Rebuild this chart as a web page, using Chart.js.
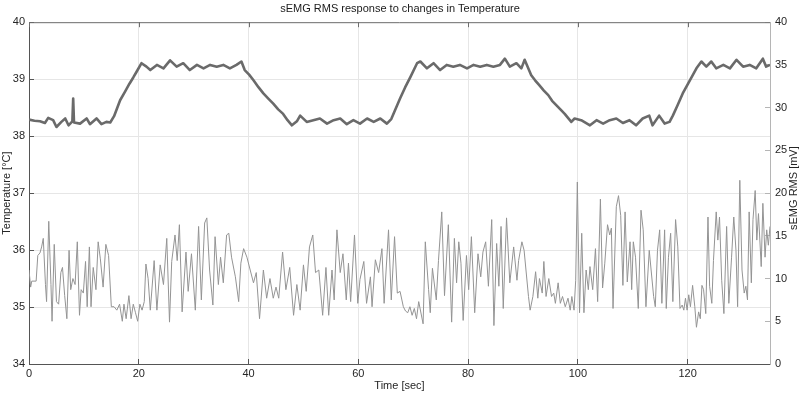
<!DOCTYPE html>
<html>
<head>
<meta charset="utf-8">
<script src="https://cdn.jsdelivr.net/npm/chart.js@4"></script>
<style>
  html, body { margin: 0; padding: 0; background: #fff; }
  #wrap { width: 800px; height: 393px; }
</style>
</head>
<body>
<div id="wrap"><canvas id="cSemg" width="800" height="393"></canvas></div>
<script>
// ===== sEMG RMS vs Temperature =====
const FONT = '"Liberation Sans", Arial, Helvetica, sans-serif';

const TITLE = 'sEMG RMS response to changes in Temperature';
const X_TICKS = [0, 20, 40, 60, 80, 100, 120];

// Temperature [°C] (left axis)
const tempTime = [
    0, 1, 2.0, 2.9, 3.5, 4.4, 5.0, 5.9, 6.6, 7.2, 7.9, 8.05, 8.2, 9.3, 10.5, 11.1, 12.3, 13.2, 14.1, 14.8,
    15.5, 16.6, 17.5, 18.3, 19.0, 19.6, 20.5, 21.4, 22.1, 23.3, 24.5, 25.7, 26.9, 28.1, 29.3, 30.6, 31.8, 33.0, 34.2, 35.4,
    36.6, 37.8, 38.7, 39.3, 40.1, 40.9, 41.8, 42.7, 43.6, 44.5, 45.4, 46.3, 47.1, 47.9, 48.8, 49.4, 50.6, 51.8, 53.0, 54.3,
    55.5, 56.7, 57.9, 59.1, 60.3, 61.6, 62.8, 64.0, 65.2, 66.0, 66.8, 67.6, 68.5, 69.5, 70.7, 71.3, 72.5, 73.7, 74.9, 76.1,
    77.3, 78.5, 79.8, 81.0, 82.2, 83.4, 84.6, 85.8, 86.7, 87.6, 88.8, 89.7, 90.3, 91.5, 92.2, 93.0, 93.8, 94.6, 95.3, 96.1,
    96.9, 97.6, 98.8, 99.4, 100.6, 102.2, 103.4, 104.6, 105.8, 107.0, 108.2, 109.4, 110.6, 111.8, 113.0, 113.6, 114.8, 115.8, 116.7, 117.3,
    118.2, 119.1, 120.4, 121.6, 122.5, 123.4, 124.3, 125.2, 126.5, 127.7, 128.9, 130.1, 131.3, 132.5, 133.7, 134.3, 135
];
const tempValue = [
    38.29, 38.27, 38.26, 38.23, 38.32, 38.28, 38.16, 38.25, 38.31, 38.19, 38.26, 38.66, 38.24, 38.22, 38.31, 38.21, 38.31, 38.21, 38.25, 38.24,
    38.35, 38.63, 38.78, 38.92, 39.03, 39.13, 39.28, 39.22, 39.16, 39.25, 39.19, 39.33, 39.22, 39.28, 39.16, 39.25, 39.19, 39.25, 39.22, 39.25,
    39.19, 39.25, 39.31, 39.16, 39.08, 38.98, 38.86, 38.75, 38.66, 38.57, 38.47, 38.39, 38.28, 38.19, 38.26, 38.36, 38.25, 38.28, 38.31, 38.22,
    38.28, 38.31, 38.21, 38.28, 38.22, 38.31, 38.25, 38.31, 38.22, 38.30, 38.48, 38.66, 38.85, 39.04, 39.28, 39.31, 39.19, 39.28, 39.16, 39.25,
    39.22, 39.25, 39.19, 39.25, 39.22, 39.25, 39.22, 39.25, 39.36, 39.22, 39.28, 39.19, 39.34, 39.07, 38.98, 38.89, 38.80, 38.72, 38.62, 38.54,
    38.46, 38.39, 38.25, 38.31, 38.28, 38.19, 38.28, 38.22, 38.28, 38.31, 38.23, 38.28, 38.19, 38.31, 38.36, 38.19, 38.36, 38.22, 38.25, 38.36,
    38.55, 38.75, 38.98, 39.19, 39.31, 39.22, 39.31, 39.19, 39.25, 39.19, 39.34, 39.22, 39.25, 39.19, 39.36, 39.22, 39.25
];

// sEMG RMS [mV] (right axis)
const semgTime = [
    0, 0.3, 0.5, 1.3, 1.6, 2.0, 2.3, 2.6, 3.0, 3.2, 3.6, 4.0, 4.2, 4.6, 5.0, 5.4, 5.8, 6.1, 6.5, 6.9,
    7.3, 7.6, 8.0, 8.4, 8.8, 9.2, 9.5, 9.9, 10.3, 10.6, 11.0, 11.3, 11.7, 12.2, 12.6, 13.0, 13.5, 14.0, 14.5, 15.0,
    15.5, 16.0, 16.5, 17.0, 17.3, 17.7, 18.2, 18.6, 19.0, 19.4, 19.8, 20.2, 20.6, 21.0, 21.3, 21.7, 22.1, 22.8, 23.3, 23.9,
    24.5, 25.1, 25.6, 26.0, 26.6, 27.0, 27.4, 27.9, 28.6, 29.0, 29.6, 30.3, 30.9, 31.4, 32.0, 32.4, 32.9, 33.5, 33.9, 34.5,
    34.9, 35.4, 36.0, 36.4, 36.9, 37.6, 38.2, 38.6, 39.1, 39.7, 40.3, 40.9, 41.4, 42.0, 42.7, 43.3, 43.9, 44.5, 45.0, 45.5,
    46.2, 46.8, 47.5, 48.2, 48.8, 49.4, 50.0, 50.5, 51.1, 51.7, 52.2, 52.8, 53.5, 54.1, 54.6, 55.2, 55.6, 56.1, 56.7, 57.2,
    57.8, 58.2, 58.6, 59.3, 59.9, 60.3, 61.0, 61.5, 62.2, 62.5, 63.1, 63.7, 64.3, 64.7, 65.5, 66.0, 66.6, 67.1, 67.6, 68.2,
    68.6, 69.0, 69.4, 69.8, 70.2, 70.6, 71.0, 71.8, 72.2, 72.8, 73.1, 73.5, 74.2, 74.6, 75.2, 75.7, 76.4, 77.0, 77.5, 77.9,
    78.3, 78.7, 79.1, 79.7, 80.1, 80.6, 81.2, 81.8, 82.3, 82.7, 83.2, 83.7, 84.3, 84.7, 85.2, 85.6, 86.0, 86.4, 87.0, 87.6,
    88.3, 88.9, 89.2, 89.8, 90.2, 91.0, 91.3, 91.8, 92.3, 92.7, 93.0, 93.5, 93.8, 94.2, 94.7, 95.2, 95.6, 95.9, 96.4, 96.8,
    97.2, 97.7, 98.2, 98.6, 98.9, 99.3, 99.6, 99.9, 100.3, 100.7, 101.1, 101.5, 101.9, 102.2, 102.7, 103.2, 103.6, 104.1, 104.5, 104.9,
    105.4, 105.8, 106.1, 106.4, 107.0, 107.4, 107.8, 108.2, 108.6, 109.0, 109.5, 109.8, 110.1, 110.5, 111.0, 111.5, 111.9, 112.4, 113.0, 113.8,
    114.1, 114.5, 114.9, 115.3, 115.8, 116.1, 116.5, 116.9, 117.3, 117.8, 118.2, 118.6, 119.0, 119.3, 119.6, 119.9, 120.2, 120.5, 120.9, 121.3,
    121.6, 122.0, 122.3, 122.6, 122.9, 123.3, 123.7, 124.0, 124.4, 124.7, 125.2, 125.5, 125.8, 126.2, 126.6, 127.1, 127.5, 128.0, 128.4, 128.8,
    129.1, 129.5, 129.9, 130.3, 130.6, 130.9, 131.2, 131.6, 131.9, 132.3, 132.6, 132.9, 133.4, 133.7, 134.1, 134.4, 134.7, 135.0
];
const semgValue = [
    11.0, 9.0, 9.7, 9.7, 12.7, 13.0, 13.7, 14.7, 9.3, 7.3, 16.7, 9.3, 5.0, 14.0, 7.3, 7.0, 10.7, 11.3, 8.0, 5.3,
    13.3, 8.7, 10.0, 9.3, 14.3, 5.7, 8.7, 8.3, 12.0, 6.7, 13.7, 6.7, 11.3, 8.7, 14.3, 12.3, 9.0, 14.0, 12.7, 6.7,
    6.7, 6.3, 7.0, 5.0, 7.0, 5.3, 8.0, 5.3, 7.0, 6.0, 5.0, 7.0, 6.3, 7.3, 11.7, 10.0, 6.3, 12.1, 6.3, 11.6,
    9.3, 14.7, 4.9, 12.0, 15.1, 12.1, 16.3, 6.1, 13.1, 8.5, 12.9, 6.3, 16.1, 7.5, 16.5, 17.1, 11.0, 6.9, 14.9, 9.3,
    12.5, 9.5, 15.1, 15.3, 12.5, 10.2, 7.3, 11.8, 13.5, 12.5, 11.0, 9.5, 10.7, 5.3, 11.0, 7.7, 10.0, 7.7, 9.0, 7.7,
    13.1, 8.7, 11.3, 5.7, 9.3, 6.3, 11.6, 8.5, 13.7, 15.1, 10.7, 11.0, 5.7, 11.3, 5.7, 11.0, 7.5, 15.7, 10.7, 12.9,
    7.5, 11.8, 7.3, 15.1, 7.1, 9.9, 12.0, 7.1, 10.2, 6.7, 12.2, 10.7, 13.5, 7.1, 15.7, 7.5, 14.9, 8.3, 8.5, 6.7,
    6.2, 6.0, 6.7, 5.7, 6.5, 5.3, 7.3, 4.7, 14.3, 8.7, 6.0, 11.2, 7.5, 12.1, 17.8, 8.0, 16.3, 4.9, 14.7, 9.5,
    14.3, 11.8, 5.1, 12.7, 8.7, 14.9, 6.0, 12.9, 10.2, 13.1, 14.3, 9.1, 16.9, 4.5, 14.1, 9.1, 16.1, 6.5, 17.1, 9.5,
    13.7, 9.8, 12.1, 14.3, 13.3, 7.9, 6.3, 7.9, 10.8, 7.7, 10.0, 8.3, 12.0, 7.9, 10.0, 7.9, 8.3, 7.1, 9.5, 7.1,
    7.9, 6.7, 7.7, 6.3, 7.9, 6.3, 9.8, 21.3, 6.0, 15.3, 6.0, 11.0, 8.7, 11.4, 8.7, 13.5, 7.3, 19.3, 8.9, 11.8,
    16.3, 15.1, 15.9, 6.5, 18.4, 19.7, 17.4, 9.2, 17.8, 9.6, 14.3, 8.7, 14.3, 12.5, 6.5, 18.0, 15.7, 6.7, 13.3, 7.9,
    6.7, 13.3, 15.7, 7.1, 15.7, 6.5, 12.5, 15.3, 7.3, 16.9, 13.7, 6.5, 6.9, 6.3, 7.7, 6.3, 8.1, 6.7, 9.2, 6.7,
    4.3, 6.1, 5.3, 9.2, 8.7, 5.9, 17.2, 9.1, 7.1, 12.1, 17.8, 14.5, 17.2, 9.8, 5.9, 16.1, 7.1, 12.5, 17.2, 13.3,
    6.7, 21.5, 11.0, 8.3, 9.1, 7.5, 17.8, 9.5, 16.9, 20.3, 14.5, 17.6, 11.4, 18.8, 12.5, 15.7, 13.9, 16.1
];

const zip = (xs, ys) => xs.map((x, i) => ({ x, y: ys[i] }));

// top box line + inward top ticks, right label reading bottom-to-top
const framePlugin = {
    id: 'frame',
    afterDraw(chart) {
        const { ctx, chartArea: a, scales } = chart;
        ctx.save();
        ctx.strokeStyle = '#6e6e6e';
        ctx.lineWidth = 1;
        ctx.beginPath();
        ctx.moveTo(a.left, a.top + 0.5);
        ctx.lineTo(a.right, a.top + 0.5);
        X_TICKS.forEach(v => {
            const px = Math.round(scales.x.getPixelForValue(v)) + 0.5;
            ctx.moveTo(px, a.top);
            ctx.lineTo(px, a.top + 5);
        });
        ctx.stroke();
        ctx.translate(794, (a.top + a.bottom) / 2 - 5);
        ctx.rotate(-Math.PI / 2);
        ctx.font = '11px ' + FONT;
        ctx.fillStyle = '#262626';
        ctx.textAlign = 'center';
        ctx.textBaseline = 'middle';
        ctx.fillText('sEMG RMS [mV]', 0, 0);
        ctx.restore();
    }
};

new Chart(document.getElementById('cSemg').getContext('2d'), {
    type: 'line',
    data: {
        datasets: [
            {
                label: 'Temperature',
                data: zip(tempTime, tempValue),
                yAxisID: 'y',
                borderColor: '#6a6a6a',
                borderWidth: 2.6,
                borderJoinStyle: 'round',
                pointRadius: 0, tension: 0, fill: false
            },
            {
                label: 'sEMG RMS',
                data: zip(semgTime, semgValue),
                yAxisID: 'y1',
                borderColor: '#949494',
                borderWidth: 1,
                borderJoinStyle: 'round',
                pointRadius: 0, tension: 0, fill: false
            }
        ]
    },
    options: {
        responsive: false,
        animation: false,
        layout: { padding: 0 },
        scales: {
            x: {
                type: 'linear', min: 0, max: 135,
                afterFit: s => { s.height = 29; },
                afterBuildTicks: s => { s.ticks = X_TICKS.map(v => ({ value: v })); },
                ticks: { color: '#262626', font: { size: 11, family: FONT }, padding: 8, maxRotation: 0 },
                grid: { color: '#e6e6e6', tickColor: '#555', tickLength: -5 },
                border: { color: '#555' },
                title: { display: true, text: 'Time [sec]', color: '#262626', font: { size: 11, family: FONT }, padding: 0 }
            },
            y: {
                position: 'left', min: 34, max: 40,
                afterFit: s => { s.width = 29; },
                ticks: { stepSize: 1, color: '#262626', font: { size: 11, family: FONT }, padding: 9 },
                grid: { color: '#e6e6e6', tickColor: '#555', tickLength: -5 },
                border: { color: '#555' },
                title: { display: true, text: 'Temperature [°C]', color: '#262626', font: { size: 11, family: FONT }, padding: 0 }
            },
            y1: {
                position: 'right', min: 0, max: 40,
                afterFit: s => { s.width = 30; },
                ticks: { stepSize: 5, color: '#262626', font: { size: 11, family: FONT }, padding: 10 },
                grid: { drawOnChartArea: false, tickColor: '#b5b5b5', tickLength: -5 },
                border: { color: '#b5b5b5' }
            }
        },
        plugins: {
            legend: { display: false },
            tooltip: { enabled: false },
            title: {
                display: true, text: TITLE, color: '#1a1a1a',
                font: { size: 11, family: FONT, weight: 'normal' },
                padding: { top: 2, bottom: 7 }
            }
        }
    },
    plugins: [framePlugin]
});
</script>
</body>
</html>
